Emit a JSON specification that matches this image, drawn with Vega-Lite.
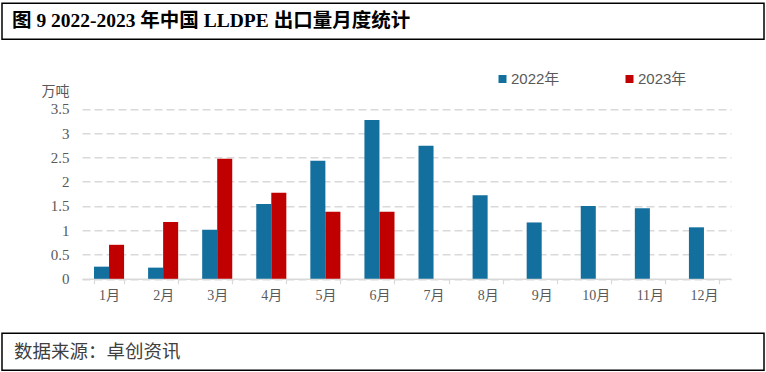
{
  "$schema": "https://vega.github.io/schema/vega-lite/v6.json",
  "padding": {"left": 1, "top": 2.25, "right": 3, "bottom": 2},
  "spacing": 0,
  "background": "white",
  "resolve": {"scale": {"color": "independent"}, "legend": {"color": "independent"}},
  "config": {
    "view": {"stroke": "#000000", "strokeWidth": 1.5},
    "font": "Liberation Serif, Noto Sans CJK SC"
  },
  "vconcat": [
    {
      "width": 762,
      "height": 36,
      "data": {"values": [{"t": "图 9 2022-2023 年中国 LLDPE 出口量月度统计"}]},
      "mark": {"type": "text", "align": "left", "baseline": "middle", "dx": 10, "fontSize": 19.5, "fontWeight": "bold", "font": "Liberation Serif, Noto Sans CJK SC", "color": "#000000"},
      "encoding": {
        "x": {"datum": 0, "type": "quantitative", "scale": {"domain": [0, 1]}, "axis": null},
        "y": {"datum": 0.5, "type": "quantitative", "scale": {"domain": [0, 1]}, "axis": null},
        "text": {"field": "t"}
      }
    },
    {
      "width": 762,
      "height": 291.8,
      "view": {"stroke": null},
      "data": {"values": [
        {"month": "1月", "year": "2022年", "value": 0.25},
        {"month": "2月", "year": "2022年", "value": 0.23},
        {"month": "3月", "year": "2022年", "value": 1.01},
        {"month": "4月", "year": "2022年", "value": 1.54},
        {"month": "5月", "year": "2022年", "value": 2.43},
        {"month": "6月", "year": "2022年", "value": 3.27},
        {"month": "7月", "year": "2022年", "value": 2.74},
        {"month": "8月", "year": "2022年", "value": 1.72},
        {"month": "9月", "year": "2022年", "value": 1.16},
        {"month": "10月", "year": "2022年", "value": 1.50},
        {"month": "11月", "year": "2022年", "value": 1.45},
        {"month": "12月", "year": "2022年", "value": 1.06},
        {"month": "1月", "year": "2023年", "value": 0.70},
        {"month": "2月", "year": "2023年", "value": 1.17},
        {"month": "3月", "year": "2023年", "value": 2.47},
        {"month": "4月", "year": "2023年", "value": 1.77},
        {"month": "5月", "year": "2023年", "value": 1.38},
        {"month": "6月", "year": "2023年", "value": 1.38}
      ]},
      "mark": {"type": "bar"},
      "encoding": {
        "x": {
          "field": "month", "type": "nominal",
          "sort": ["1月", "2月", "3月", "4月", "5月", "6月", "7月", "8月", "9月", "10月", "11月", "12月"],
          "scale": {"range": [80, 729], "paddingInner": 0.444, "paddingOuter": 0.222},
          "axis": {
            "title": null, "orient": "bottom", "offset": -53.25,
            "domainColor": "#d9d9d9", "domainWidth": 1.5,
            "tickBand": "extent", "tickColor": "#d9d9d9", "tickSize": 5, "tickWidth": 1.2,
            "labelFontSize": 14, "labelColor": "#595959", "labelPadding": 5, "labelAngle": 0,
            "labelFont": "Liberation Serif, Noto Sans CJK SC"
          }
        },
        "xOffset": {"field": "year", "type": "nominal", "scale": {"paddingInner": 0}},
        "y": {
          "field": "value", "type": "quantitative",
          "scale": {"domain": [0, 3.5], "range": [238.55, 68.55], "nice": false},
          "axis": {
            "title": "万吨", "titleAngle": 0, "titleX": -14, "titleY": 51,
            "titleAlign": "center", "titleBaseline": "middle", "titleFontSize": 14,
            "titleFontWeight": "normal", "titleColor": "#595959", "titleFont": "Noto Sans CJK SC",
            "values": [0, 0.5, 1, 1.5, 2, 2.5, 3, 3.5], "format": ".1~f",
            "offset": -67, "domain": false, "ticks": false, "tickSize": 0, "labelPadding": 0,
            "labelFontSize": 15, "labelColor": "#595959", "labelFont": "Liberation Serif",
            "grid": true, "gridColor": "#d9d9d9", "gridDash": [8, 4], "gridWidth": 1.3
          }
        },
        "color": {
          "field": "year", "type": "nominal",
          "scale": {"domain": ["2022年", "2023年"], "range": ["#13709E", "#C00000"]},
          "legend": {
            "title": null, "orient": "none", "legendX": 493, "legendY": 31,
            "direction": "horizontal", "symbolType": "square", "symbolSize": 64,
            "symbolStrokeWidth": 0, "labelFontSize": 15, "labelColor": "#595959",
            "labelFont": "Liberation Sans, Noto Sans CJK SC", "labelOffset": 1,
            "columnPadding": 62, "padding": 0
          }
        }
      }
    },
    {
      "width": 762,
      "height": 37,
      "data": {"values": [{"t": "数据来源：卓创资讯"}]},
      "mark": {"type": "text", "align": "left", "baseline": "middle", "dx": 12, "fontSize": 18.5, "font": "Noto Sans CJK SC", "color": "#404040"},
      "encoding": {
        "x": {"datum": 0, "type": "quantitative", "scale": {"domain": [0, 1]}, "axis": null},
        "y": {"datum": 0.5, "type": "quantitative", "scale": {"domain": [0, 1]}, "axis": null},
        "text": {"field": "t"}
      }
    }
  ]
}
